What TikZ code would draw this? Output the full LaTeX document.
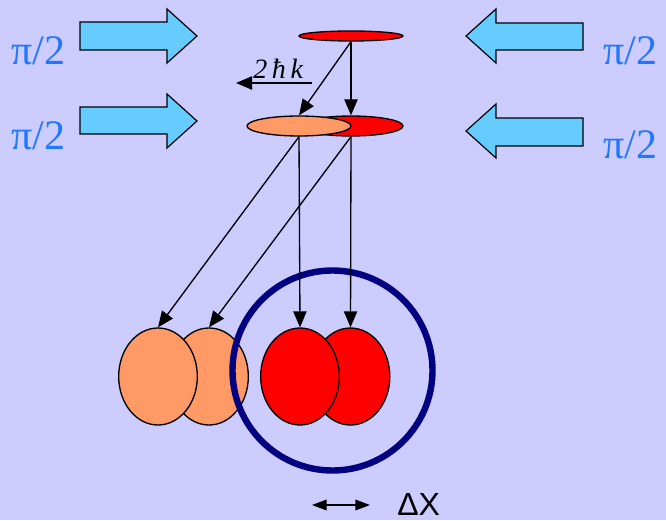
\documentclass[tikz,border=0pt]{standalone}
\usepackage{fontspec}
\setmainfont{Liberation Serif}
\newfontfamily\arialfont{Liberation Sans}
\usetikzlibrary{shapes.geometric,arrows.meta}
\definecolor{bgc}{HTML}{CCCCFF}
\definecolor{orng}{HTML}{FF9966}
\definecolor{redc}{HTML}{FF0000}
\definecolor{arrblue}{HTML}{66CCFF}
\definecolor{txtblue}{HTML}{2277FF}
\definecolor{navyc}{HTML}{000080}
\begin{document}
\begin{tikzpicture}[x=0.75pt,y=-0.75pt,
  cloud/.style={ellipse,draw=black,line width=1pt,inner sep=0pt},
  flat/.style={cloud,minimum width=78pt,minimum height=15pt},
  blob/.style={cloud,minimum width=59pt,minimum height=72.75pt},
  conn/.style={-{Triangle[length=12pt,width=10pt]},line width=1pt},
  pulse/.style={fill=arrblue,draw=black,line width=0.9pt,line join=miter},
  pilabel/.style={inner sep=0pt,anchor=base west,text=txtblue,font=\fontsize{31.5}{36}\selectfont}
]
\useasboundingbox (0,0) rectangle (666,520);
\fill[bgc] (0,0) rectangle (666,520);

% blue pulse arrows (right-pointing)
\draw[pulse] (80,22) -- (167,22) -- (167,9) -- (197,36) -- (167,63) -- (167,50) -- (80,50) -- cycle;
\draw[pulse] (80,107) -- (167,107) -- (167,94) -- (197,121) -- (167,148) -- (167,134) -- (80,134) -- cycle;
% left-pointing
\draw[pulse] (583,23) -- (496,23) -- (496,9) -- (466,36) -- (496,63) -- (496,50) -- (583,50) -- cycle;
\draw[pulse] (583,118) -- (496,118) -- (496,104) -- (466,131) -- (496,158) -- (496,146) -- (583,146) -- cycle;

\node[pilabel] (p1) at (11,65) {π/2};
\node[pilabel] (p2) at (11,150) {π/2};
\node[pilabel] (p3) at (603,65) {π/2};
\node[pilabel] (p4) at (603,159) {π/2};

% clouds
\node[flat,fill=redc,minimum height=7.5pt] (t) at (351,36) {};
\node[flat,fill=redc] (mr) at (351,126) {};
\node[flat,fill=orng] (mo) at (299,126) {};

\node[blob,fill=orng] (bo2) at (209,376.5) {};
\node[blob,fill=orng] (bo1) at (158,376.5) {};
\node[blob,fill=redc] (br2) at (350.5,376.5) {};
\node[blob,fill=redc] (br1) at (300,376.5) {};

\node[circle,draw=navyc,line width=4.8pt,minimum size=150pt,inner sep=0pt] (ring) at (332.5,370.5) {};

% connectors
\draw[conn] (t.south) -- (mr.north);
\draw[conn] (t.south) -- (mo.north);
\draw[conn] (mo.south) -- (br1.north);
\draw[conn] (mo.south) -- (bo1.north);
\draw[conn] (mr.south) -- (br2.north);
\draw[conn] (mr.south) -- (bo2.north);

% recoil label
\node[inner sep=0pt,anchor=base west,font=\itshape\fontsize{21}{24}\selectfont] (hk) at (253,79) {2\,ħ\,k};
\coordinate (hkr) at (312,83);
\coordinate (hkl) at (236,83);
\draw[-{Triangle[length=12pt,width=10pt]},line width=1pt] (hkr) -- (hkl);

% delta x
\coordinate (dxl) at (312,505);
\coordinate (dxr) at (370,505);
\draw[{Triangle[length=11pt,width=8pt]}-{Triangle[length=11pt,width=8pt]},line width=1pt] (dxl) -- (dxr);
\node[inner sep=0pt,anchor=base west,font=\arialfont\fontsize{24}{28}\selectfont] (dx) at (397,515) {ΔX};
\end{tikzpicture}
\end{document}
